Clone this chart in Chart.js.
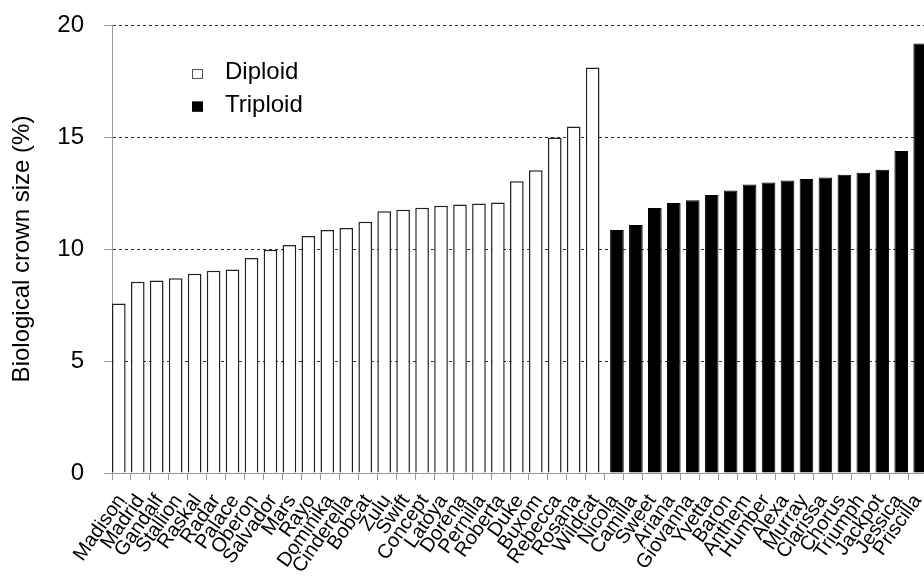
<!DOCTYPE html>
<html lang="en">
<head>
    <meta charset="UTF-8">
    <title>Biological crown size</title>
    <style>
        html, body {
            margin: 0;
            padding: 0;
            overflow: hidden;
            background: #fff;
        }

        .chart-container {
            position: relative;
            width: 927px;
            height: 578px;
        }
    </style>
</head>
<body>
    <div class="chart-container">
        <canvas id="crownChart"></canvas>
    </div>

    <script src="https://cdn.jsdelivr.net/npm/chart.js"></script>

    <script>
        // Cultivar names and crown size values (%)
        const diploidNames = ['Madison', 'Madrid', 'Gandalf', 'Stallion', 'Raskal', 'Radar', 'Palace', 'Oberon',
            'Salvador', 'Mars', 'Rayo', 'Dominika', 'Cinderella', 'Bobcat', 'Zulu', 'Swift', 'Concept',
            'Latoya', 'Dorena', 'Pernilla', 'Roberta', 'Duke', 'Buxom', 'Rebecca', 'Rosana', 'Wildcat'];
        const diploidValues = [7.57, 8.54, 8.59, 8.69, 8.90, 9.03, 9.08, 9.60, 9.97, 10.18, 10.58, 10.85,
            10.94, 11.22, 11.68, 11.75, 11.84, 11.93, 11.99, 12.03, 12.08, 13.03, 13.52, 14.98, 15.47, 18.10];

        const triploidNames = ['Nicola', 'Camilla', 'Sweet', 'Ariana', 'Giovanna', 'Yvetta', 'Baron', 'Anthem',
            'Humber', 'Alexa', 'Murray', 'Clarissa', 'Chorus', 'Triumph', 'Jackpot', 'Jessica', 'Priscilla'];
        const triploidValues = [10.85, 11.07, 11.83, 12.05, 12.18, 12.41, 12.61, 12.88, 12.97, 13.06, 13.13,
            13.19, 13.31, 13.40, 13.54, 14.37, 19.17];

        const yTicks = [0, 5, 10, 15, 20];

        const labels = diploidNames.concat(triploidNames);
        const diploidData = diploidValues.concat(triploidNames.map(() => null));
        const triploidData = diploidNames.map(() => null).concat(triploidValues);

        const font = '"Liberation Sans", Arial, sans-serif';

        // legend drawn inside the plot, upper left
        const insideLegend = {
            id: 'insideLegend',
            afterDraw(chart) {
                const ctx = chart.ctx;
                ctx.save();
                ctx.font = '24px ' + font;
                ctx.textBaseline = 'alphabetic';
                ctx.textAlign = 'left';
                chart.data.datasets.forEach((ds, i) => {
                    const top = 69 + i * 32.6;
                    ctx.fillStyle = ds.backgroundColor;
                    ctx.fillRect(192, top, 11, 10);
                    ctx.strokeStyle = ds.legendBorder;
                    ctx.lineWidth = 1;
                    ctx.strokeRect(192.5, top + 0.5, 10, 9);
                    ctx.fillStyle = '#000';
                    ctx.fillText(ds.label, 225, top + 10);
                });
                ctx.restore();
            }
        };

        const ctx = document.getElementById('crownChart').getContext('2d');

        const crownChart = new Chart(ctx, {
            type: 'bar',
            data: {
                labels: labels,
                datasets: [{
                    label: 'Diploid',
                    data: diploidData,
                    backgroundColor: '#ffffff',
                    borderColor: '#222222',
                    legendBorder: '#555555',
                    borderWidth: 1.5,
                    categoryPercentage: 0.561,
                    barPercentage: 2.566
                }, {
                    label: 'Triploid',
                    data: triploidData,
                    backgroundColor: '#000000',
                    borderColor: '#000000',
                    legendBorder: '#000000',
                    borderWidth: 1,
                    categoryPercentage: 0.561,
                    barPercentage: 2.566
                }]
            },
            options: {
                responsive: true,
                maintainAspectRatio: false,
                animation: false,
                layout: {
                    padding: { top: 25, left: 0, right: 0, bottom: 0 }
                },
                plugins: {
                    legend: { display: false },
                    tooltip: { enabled: false }
                },
                scales: {
                    x: {
                        offset: true,
                        grid: {
                            offset: true,
                            drawOnChartArea: false,
                            drawTicks: true,
                            tickLength: 7,
                            color: '#999999'
                        },
                        border: { display: true, color: '#999999' },
                        ticks: {
                            autoSkip: false,
                            minRotation: 55,
                            maxRotation: 55,
                            padding: 10,
                            color: '#000',
                            font: { family: font, size: 20 }
                        },
                        afterFit(scale) {
                            scale.height = 105;
                            scale.paddingLeft = 0;
                            scale.paddingRight = 0;
                        }
                    },
                    y: {
                        min: 0,
                        max: 20,
                        afterBuildTicks(scale) {
                            scale.ticks = yTicks.map(v => ({ value: v }));
                        },
                        grid: {
                            color: c => (c.tick && c.tick.value === 0) ? 'rgba(0,0,0,0)' : '#333333',
                            tickColor: '#999999',
                            tickBorderDash: [],
                            tickLength: 8
                        },
                        border: { display: true, color: '#999999', dash: [3, 3] },
                        ticks: {
                            padding: 20,
                            color: '#000',
                            font: { family: font, size: 24 }
                        },
                        title: {
                            display: true,
                            text: 'Biological crown size (%)',
                            color: '#000',
                            font: { family: font, size: 24 },
                            padding: { top: 8, bottom: 0 }
                        },
                        afterFit(scale) {
                            scale.width = 112;
                            scale.paddingTop = 0;
                            scale.paddingBottom = 0;
                        }
                    }
                }
            },
            plugins: [insideLegend]
        });
    </script>
</body>
</html>
